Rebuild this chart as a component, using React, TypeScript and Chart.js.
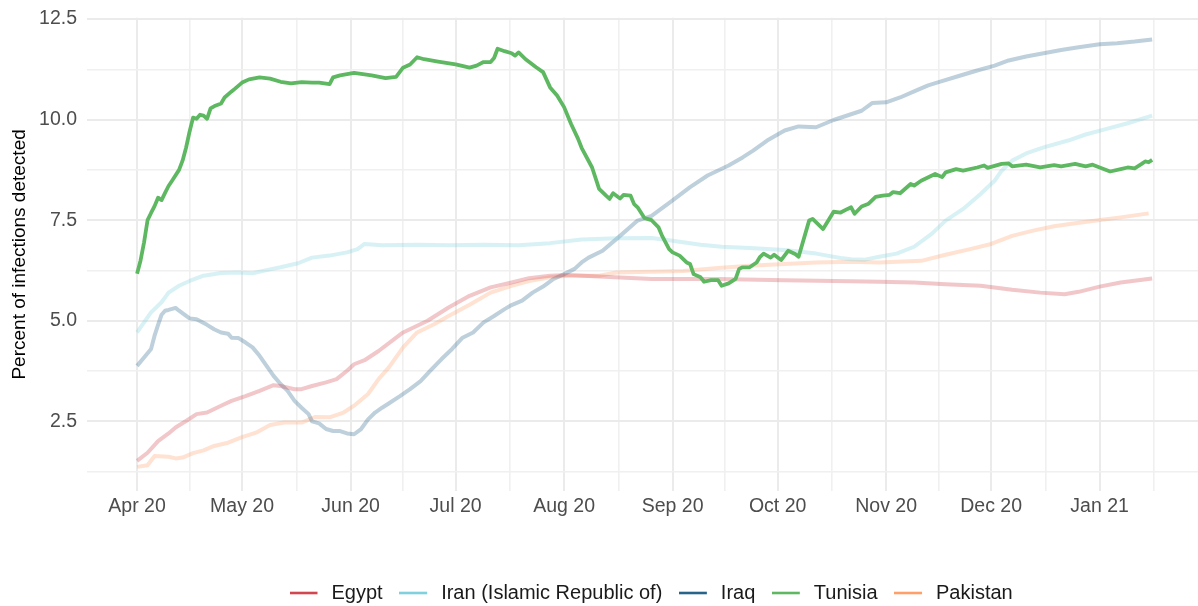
import React, { useEffect, useRef } from "react";
import { Chart, registerables } from "chart.js";

Chart.register(...registerables);

// ---- Axis ticks (x in days since 1 Apr 2020) ----
const monthTickDays = [0, 30, 61, 91, 122, 153, 183, 214, 244, 275];
const monthTickLabels = ["Apr 20", "May 20", "Jun 20", "Jul 20", "Aug 20", "Sep 20", "Oct 20", "Nov 20", "Dec 20", "Jan 21"];
const minorTickDays = [15, 45.5, 76, 106.5, 137.5, 168, 198.5, 229, 259.5, 290.5];
const yMajorTicks = [2.5, 5, 7.5, 10, 12.5];
const yMinorTicks = [1.25, 3.75, 6.25, 8.75, 11.25];

const legendNames = ["Egypt", "Iran (Islamic Republic of)", "Iraq", "Tunisia", "Pakistan"];
const legendColors = ["#d2464f", "#7fd1de", "#28648a", "#5eb861", "#ffa06b"];

// ---- Series ----
const egyptDays = [0, 3, 6, 9, 11, 14, 17, 20, 24, 27, 31, 35, 39, 41, 45, 47, 50, 54, 57, 60, 62, 65, 69, 76, 83, 89, 95, 101, 107, 112, 118, 123, 132, 147, 166, 185, 204, 212, 222, 231, 241, 250, 258, 265, 269, 275, 281, 290];
const egyptValues = [1.52, 1.72, 2.01, 2.2, 2.35, 2.51, 2.68, 2.72, 2.89, 3.01, 3.13, 3.26, 3.4, 3.38, 3.3, 3.3, 3.38, 3.47, 3.55, 3.76, 3.92, 4.02, 4.25, 4.71, 5.0, 5.33, 5.62, 5.83, 5.95, 6.06, 6.12, 6.14, 6.1, 6.04, 6.04, 6.01, 5.98, 5.97, 5.95, 5.91, 5.87, 5.77, 5.7, 5.66, 5.72, 5.85, 5.95, 6.05];

const iranDays = [0, 2, 4, 7, 9, 12, 15, 19, 24, 29, 33, 37, 41, 46, 50, 55, 60, 63, 65, 70, 80, 89, 99, 109, 118, 127, 137, 147, 153, 161, 167, 175, 185, 194, 201, 204, 208, 212, 217, 222, 227, 231, 236, 241, 243, 245, 247, 250, 254, 259, 266, 271, 277, 283, 290];
const iranValues = [4.71, 4.96, 5.21, 5.46, 5.7, 5.87, 5.99, 6.12, 6.19, 6.2, 6.18, 6.26, 6.33, 6.43, 6.57, 6.62, 6.7, 6.78, 6.91, 6.88, 6.89, 6.88, 6.89, 6.88, 6.93, 7.02, 7.05, 7.06, 6.99, 6.89, 6.84, 6.81, 6.76, 6.67, 6.56, 6.53, 6.52, 6.59, 6.67, 6.84, 7.16, 7.49, 7.78, 8.15, 8.32, 8.48, 8.73, 8.98, 9.16, 9.31, 9.48, 9.63, 9.77, 9.91, 10.1];

const iraqDays = [0, 2, 4, 5, 6, 7, 8, 9, 11, 12, 15, 17, 20, 22, 24, 26, 27, 29, 31, 33, 35, 37, 39, 41, 43, 45, 47, 49, 50, 52, 54, 56, 58, 60, 62, 64, 66, 68, 70, 72, 75, 78, 81, 84, 87, 90, 93, 96, 99, 102, 105, 107, 110, 113, 116, 119, 122, 125, 127, 129, 133, 138, 143, 147, 153, 158, 163, 169, 173, 176, 180, 185, 189, 194, 199, 207, 210, 214, 218, 222, 226, 229, 235, 240, 245, 249, 254, 259, 264, 269, 275, 280, 285, 290];
const iraqValues = [3.88, 4.09, 4.3, 4.63, 4.9, 5.15, 5.25, 5.27, 5.32, 5.25, 5.06, 5.04, 4.9, 4.79, 4.71, 4.68, 4.58, 4.57, 4.46, 4.34, 4.13, 3.88, 3.63, 3.43, 3.26, 3.01, 2.84, 2.68, 2.5, 2.45, 2.31, 2.26, 2.26, 2.2, 2.18, 2.31, 2.55, 2.72, 2.84, 2.95, 3.12, 3.3, 3.5, 3.78, 4.05, 4.3, 4.58, 4.71, 4.96, 5.12, 5.29, 5.39, 5.5, 5.7, 5.85, 6.04, 6.16, 6.29, 6.45, 6.57, 6.74, 7.11, 7.49, 7.61, 7.99, 8.32, 8.61, 8.86, 9.06, 9.23, 9.48, 9.73, 9.83, 9.81, 9.99, 10.22, 10.41, 10.43, 10.55, 10.7, 10.85, 10.93, 11.09, 11.22, 11.34, 11.47, 11.57, 11.65, 11.73, 11.8, 11.87, 11.9, 11.94, 11.99];

const tunisiaDays = [0, 1, 2, 3, 4, 5, 6, 7, 8, 9, 10, 12, 13, 14, 15, 16, 17, 18, 19, 20, 21, 22, 24, 25, 27, 28, 30, 32, 35, 38, 41, 44, 47, 50, 52, 55, 56, 58, 62, 67, 71, 74, 76, 78, 80, 82, 86, 91, 95, 97, 99, 101, 102, 103, 105, 107, 108, 109, 111, 114, 116, 118, 120, 122, 124, 126, 127, 130, 132, 134, 135, 136, 138, 139, 141, 142, 143, 145, 147, 149, 150, 152, 153, 155, 157, 158, 159, 161, 162, 164, 166, 167, 169, 171, 172, 173, 175, 177, 178, 179, 181, 182, 184, 186, 188, 189, 192, 193, 196, 199, 201, 203, 204, 205, 207, 209, 211, 213, 215, 216, 218, 221, 222, 224, 228, 230, 231, 234, 236, 240, 242, 243, 247, 249, 250, 254, 258, 262, 264, 268, 271, 273, 275, 278, 281, 283, 285, 287, 288, 289, 290];
const tunisiaValues = [6.17, 6.5, 6.95, 7.5, 7.68, 7.85, 8.06, 8.0, 8.18, 8.35, 8.48, 8.75, 8.98, 9.3, 9.7, 10.05, 10.02, 10.12, 10.1, 10.02, 10.28, 10.33, 10.4, 10.55, 10.7, 10.77, 10.92, 11.0, 11.05, 11.02, 10.94, 10.9, 10.93, 10.92, 10.92, 10.88, 11.05, 11.1, 11.16, 11.1, 11.03, 11.06, 11.29, 11.37, 11.55, 11.5, 11.44, 11.37, 11.29, 11.34, 11.43, 11.43, 11.53, 11.76, 11.7, 11.65, 11.59, 11.67, 11.5, 11.3, 11.18, 10.8, 10.6, 10.31, 9.89, 9.52, 9.3, 8.81, 8.28, 8.11, 8.03, 8.17, 8.04, 8.13, 8.11, 7.9, 7.82, 7.55, 7.5, 7.32, 7.11, 6.78, 6.7, 6.62, 6.45, 6.41, 6.16, 6.08, 5.97, 6.01, 6.01, 5.87, 5.93, 6.04, 6.29, 6.33, 6.33, 6.45, 6.59, 6.67, 6.57, 6.64, 6.51, 6.74, 6.66, 6.59, 7.49, 7.53, 7.28, 7.71, 7.69, 7.78, 7.82, 7.66, 7.84, 7.91, 8.08, 8.11, 8.13, 8.2, 8.17, 8.4, 8.36, 8.48, 8.65, 8.57, 8.69, 8.77, 8.73, 8.81, 8.86, 8.8, 8.9, 8.91, 8.84, 8.88, 8.81, 8.87, 8.84, 8.9, 8.84, 8.88, 8.81, 8.71, 8.77, 8.81, 8.79, 8.9, 8.96, 8.94, 9.0];

const pakistanDays = [0, 3, 5, 9, 11, 13, 16, 19, 22, 26, 30, 34, 38, 42, 47, 51, 55, 59, 62, 66, 69, 72, 76, 80, 85, 89, 95, 101, 107, 112, 118, 123, 132, 137, 156, 166, 175, 185, 194, 204, 212, 224, 231, 238, 244, 250, 256, 262, 267, 274, 281, 289];
const pakistanValues = [1.37, 1.41, 1.64, 1.62, 1.58, 1.6, 1.71, 1.78, 1.89, 1.97, 2.11, 2.22, 2.41, 2.47, 2.47, 2.61, 2.6, 2.72, 2.89, 3.18, 3.55, 3.85, 4.34, 4.71, 4.92, 5.12, 5.4, 5.7, 5.87, 5.99, 6.08, 6.12, 6.12, 6.2, 6.24, 6.31, 6.37, 6.41, 6.45, 6.47, 6.45, 6.49, 6.64, 6.78, 6.91, 7.11, 7.24, 7.35, 7.41, 7.49, 7.57, 7.67];

const FONT = "'Liberation Sans', Arial, Helvetica, sans-serif";

function toPoints(days: number[], values: number[]) {
  return days.map((d, i) => ({ x: d, y: values[i] }));
}

function fade(hex: string, a: number) {
  const r = parseInt(hex.slice(1, 3), 16);
  const g = parseInt(hex.slice(3, 5), 16);
  const b = parseInt(hex.slice(5, 7), 16);
  return `rgba(${r},${g},${b},${a})`;
}

const SWATCH_W = 32;
const SWATCH_LINE = 28;

function swatch(color: string): HTMLCanvasElement {
  const c = document.createElement("canvas");
  c.width = SWATCH_W;
  c.height = 6;
  const g = c.getContext("2d")!;
  g.strokeStyle = color;
  g.lineWidth = 2.6;
  g.beginPath();
  g.moveTo(0, 3);
  g.lineTo(SWATCH_LINE, 3);
  g.stroke();
  return c;
}

const LEGEND_PAD = 16.5;
const LEGEND_FONT = 20;

const legendPlacer = {
  id: "legendPlacer",
  afterLayout(chart: any) {
    const lg = chart.legend;
    if (!lg) return;
    const dx = 289.5 - LEGEND_PAD - lg.left;
    lg.left += dx;
    lg.right += dx;
    const h = lg.bottom - lg.top;
    lg.top = 593 - LEGEND_PAD - LEGEND_FONT / 2;
    lg.bottom = lg.top + h;
  },
};

export default function App() {
  const ref = useRef<HTMLCanvasElement | null>(null);

  useEffect(() => {
    if (!ref.current) return;
    const swatches = legendColors.map(swatch);
    const seriesDays = [egyptDays, iranDays, iraqDays, tunisiaDays, pakistanDays];
    const seriesValues = [egyptValues, iranValues, iraqValues, tunisiaValues, pakistanValues];
    const datasets = legendNames.map((name, i) => {
      const isMain = name === "Tunisia";
      return {
        label: name,
        data: toPoints(seriesDays[i], seriesValues[i]),
        borderColor: isMain ? legendColors[i] : fade(legendColors[i], 0.3),
        borderWidth: isMain ? 3.8 : 4,
        pointRadius: 0,
        pointHoverRadius: 0,
        tension: 0,
        fill: false,
        borderJoinStyle: "round" as const,
        order: isMain ? 0 : 1,
      };
    });
    const xTicks = [...monthTickDays, ...minorTickDays].sort((a, b) => a - b);
    const yTicks = [...yMajorTicks, ...yMinorTicks].sort((a, b) => a - b);

    const chart = new Chart(ref.current, {
      type: "line",
      data: { datasets },
      plugins: [legendPlacer],
      options: {
        animation: false,
        responsive: true,
        maintainAspectRatio: false,
        parsing: false as any,
        layout: { padding: { top: 17.8, left: 0, right: 0, bottom: 0 } },
        plugins: {
          tooltip: { enabled: false },
          legend: {
            display: true,
            position: "bottom",
            align: "start",
            labels: {
              usePointStyle: true,
              pointStyleWidth: SWATCH_W,
              padding: LEGEND_PAD,
              color: "#1a1a1a",
              font: { family: FONT, size: LEGEND_FONT },
              generateLabels: () =>
                legendNames.map((name, i) => ({
                  text: name,
                  pointStyle: swatches[i] as any,
                  fillStyle: "rgba(0,0,0,0)",
                  strokeStyle: "rgba(0,0,0,0)",
                  lineWidth: 0,
                  hidden: false,
                  datasetIndex: i,
                  fontColor: "#1a1a1a",
                })),
            },
          },
        },
        scales: {
          x: {
            type: "linear",
            min: -14.3,
            max: 303.1,
            afterBuildTicks: (s: any) => {
              s.ticks = xTicks.map((v) => ({ value: v }));
            },
            afterFit: (s: any) => {
              s.height = 68.5;
              s.paddingLeft = 0;
              s.paddingRight = 0;
            },
            ticks: {
              autoSkip: false,
              maxRotation: 0,
              minRotation: 0,
              padding: 4,
              color: "#4d4d4d",
              font: { family: FONT, size: 19.5 },
              callback: (v: any) => {
                const idx = monthTickDays.indexOf(Number(v));
                return idx >= 0 ? monthTickLabels[idx] : "";
              },
            },
            grid: {
              drawTicks: false,
              color: (c: any) => (monthTickDays.includes(c.tick?.value) ? "#ebebeb" : "#f0f0f0"),
              lineWidth: (c: any) => (monthTickDays.includes(c.tick?.value) ? 2 : 1.6),
            },
            border: { display: false },
          },
          y: {
            type: "linear",
            min: 0.77,
            max: 12.53,
            afterBuildTicks: (s: any) => {
              s.ticks = yTicks.map((v) => ({ value: v }));
            },
            afterFit: (s: any) => {
              s.width = 87;
              s.paddingTop = 0;
              s.paddingBottom = 0;
            },
            ticks: {
              autoSkip: false,
              padding: 10,
              color: "#4d4d4d",
              font: { family: FONT, size: 19.5 },
              callback: (v: any) => (yMajorTicks.includes(Number(v)) ? Number(v).toFixed(1) : ""),
            },
            grid: {
              drawTicks: false,
              color: (c: any) => (yMajorTicks.includes(c.tick?.value) ? "#ebebeb" : "#f0f0f0"),
              lineWidth: (c: any) => (yMajorTicks.includes(c.tick?.value) ? 2 : 1.6),
            },
            border: { display: false },
            title: {
              display: true,
              text: "Percent of infections detected",
              color: "#000000",
              font: { family: FONT, size: 19 },
              padding: { top: 8, bottom: 0 },
            },
          },
        },
      } as any,
    });
    return () => chart.destroy();
  }, []);

  return (
    <div style={{ position: "fixed", left: 0, top: 0, width: 1198, height: 606, background: "#ffffff" }}>
      <canvas ref={ref} />
    </div>
  );
}
